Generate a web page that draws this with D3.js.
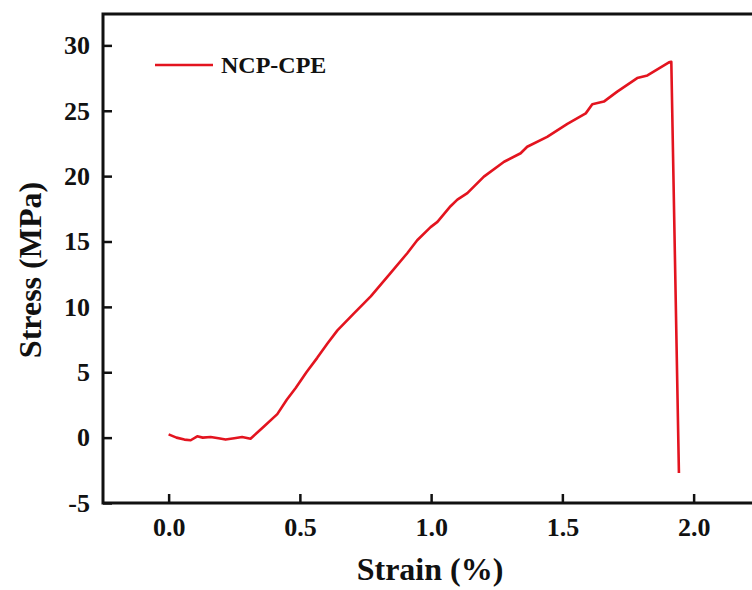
<!DOCTYPE html>
<html>
<head>
<meta charset="utf-8">
<script src="https://cdn.jsdelivr.net/npm/d3@7"></script>
<style>
  html, body { margin: 0; padding: 0; background: #fff; overflow: hidden; }
  svg { display: block; }
  text { font-family: "Liberation Serif", "Times New Roman", serif; font-weight: bold; fill: #111; }
</style>
</head>
<body>
<svg id="chart" width="752" height="590"></svg>
<script>
// Tensile stress-strain curve of the NCP-CPE membrane
const seriesName = "NCP-CPE";
const strain = [0.000, 0.030, 0.060, 0.084, 0.109, 0.130, 0.160, 0.190, 0.217, 0.250, 0.280, 0.312,
                0.360, 0.414, 0.450, 0.484, 0.525, 0.566, 0.605, 0.643, 0.706, 0.770, 0.846, 0.909,
                0.947, 0.998, 1.024, 1.074, 1.100, 1.138, 1.201, 1.278, 1.341, 1.366, 1.442, 1.519,
                1.589, 1.614, 1.658, 1.709, 1.785, 1.824, 1.906, 1.915, 1.944];
const stress = [0.25, 0.00, -0.15, -0.20, 0.10, 0.00, 0.05, -0.05, -0.15, -0.05, 0.05, -0.08,
                0.80, 1.80, 2.90, 3.80, 5.00, 6.10, 7.20, 8.20, 9.50, 10.80, 12.60, 14.10,
                15.10, 16.10, 16.50, 17.70, 18.20, 18.70, 19.96, 21.10, 21.75, 22.25, 23.00, 24.00,
                24.80, 25.50, 25.70, 26.46, 27.50, 27.70, 28.70, 28.75, -2.70];
const xTicks = [0.0, 0.5, 1.0, 1.5, 2.0];
const yTicks = [-5, 0, 5, 10, 15, 20, 25, 30];
const xDomain = [-0.25, 2.25];
const yDomain = [-5, 32.4];

const svg = d3.select("#chart");
const plotLeft = 103, plotTop = 14, plotBottom = 503;
const plotRight = plotLeft + (xDomain[1] - xDomain[0]) * 262.5;

const x = d3.scaleLinear().domain(xDomain).range([plotLeft, plotRight]);
const y = d3.scaleLinear().domain(yDomain).range([plotBottom, plotTop]);

const points = strain.map((s, i) => [s, stress[i]]);

// curve
svg.append("path")
  .datum(points)
  .attr("fill", "none")
  .attr("stroke", "#e3141f")
  .attr("stroke-width", 2.6)
  .attr("stroke-linejoin", "round")
  .attr("d", d3.line().x(d => x(d[0])).y(d => y(d[1])));

// frame
svg.append("path")
  .attr("d", `M${plotLeft},${plotBottom}V${plotTop}H${plotRight}V${plotBottom}Z`)
  .attr("fill", "none")
  .attr("stroke", "#111")
  .attr("stroke-width", 3);

// bottom axis
const xAxis = svg.append("g")
  .attr("transform", `translate(0,${plotBottom})`)
  .call(d3.axisBottom(x).tickValues(xTicks).tickFormat(d => d.toFixed(1))
    .tickSizeInner(-9).tickSizeOuter(0).tickPadding(15));
xAxis.select(".domain").remove();
xAxis.selectAll("line").attr("stroke", "#111").attr("stroke-width", 2.5);
xAxis.selectAll("text").attr("font-size", 26).attr("fill", "#111")
  .attr("font-family", "Liberation Serif, Times New Roman, serif");

// left axis (plain hyphen for the negative label)
const yAxis = svg.append("g")
  .attr("transform", `translate(${plotLeft},0)`)
  .call(d3.axisLeft(y).tickValues(yTicks).tickFormat(d => String(d))
    .tickSizeInner(-9).tickSizeOuter(0).tickPadding(13));
yAxis.select(".domain").remove();
yAxis.selectAll("line").attr("stroke", "#111").attr("stroke-width", 2.5);
yAxis.selectAll("text").attr("font-size", 26).attr("fill", "#111")
  .attr("font-family", "Liberation Serif, Times New Roman, serif");

// axis titles
svg.append("text")
  .attr("x", 430).attr("y", 580)
  .attr("text-anchor", "middle")
  .attr("font-size", 32)
  .text("Strain (%)");

svg.append("text")
  .attr("transform", "translate(41,270) rotate(-90)")
  .attr("text-anchor", "middle")
  .attr("font-size", 32)
  .text("Stress (MPa)");

// legend
const legend = svg.append("g");
legend.append("line")
  .attr("x1", 155).attr("x2", 213)
  .attr("y1", 65).attr("y2", 65)
  .attr("stroke", "#e3141f").attr("stroke-width", 2.6);
legend.append("text")
  .attr("x", 221).attr("y", 73)
  .attr("font-size", 24)
  .text(seriesName);
</script>
</body>
</html>
